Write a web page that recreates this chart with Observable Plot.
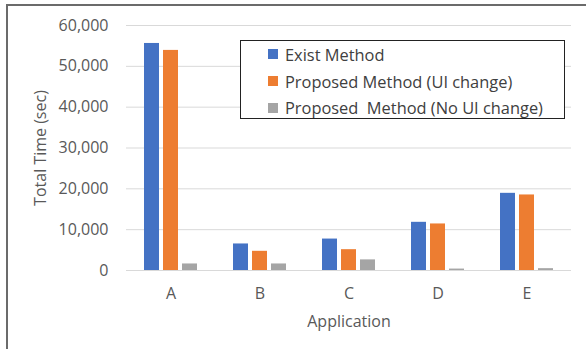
<!DOCTYPE html>
<html>
<head>
<meta charset="utf-8">
<script src="https://cdn.jsdelivr.net/npm/d3@7"></script>
<script src="https://cdn.jsdelivr.net/npm/@observablehq/plot@0.6"></script>
<style>
  html, body { margin: 0; padding: 0; background: #fff; }
  #wrap { position: relative; width: 586px; height: 349px; overflow: hidden; font-family: "Open Sans", sans-serif; }
  #border { position: absolute; left: 6px; top: 4px; right: -4px; bottom: -4px; border-top: 2px solid #6b6b6b; border-left: 2px solid #6b6b6b; pointer-events: none; }
  #legend { position: absolute; left: 240px; top: 40px; width: 325px; height: 79px; box-sizing: border-box; border: 1.5px solid #222; background: #fff; padding: 0 0 0 27px; }
  .item { display: flex; align-items: center; height: 26.8px; font-size: 16.4px; color: #404040; white-space: pre; }
  .sw { width: 10px; height: 10px; margin-right: 7px; flex: none; }
</style>
</head>
<body>
<div id="wrap">
  <div id="chart"></div>
  <div id="legend"></div>
  <div id="border"></div>
</div>
<script>
// Applications and the three methods compared
const apps = ["A", "B", "C", "D", "E"];
const methods = ["Exist Method", "Proposed Method (UI change)", "Proposed  Method (No UI change)"];
const colors = ["#4472C4", "#ED7D31", "#A5A5A5"];

// Total time in seconds per application
const existMethod = [55600, 6500, 7700, 11800, 18900];
const proposedUiChange = [53900, 4700, 5100, 11400, 18500];
const proposedNoUiChange = [1600, 1600, 2600, 350, 450];

const yTicks = [0, 10000, 20000, 30000, 40000, 50000, 60000];

const seriesValues = [existMethod, proposedUiChange, proposedNoUiChange];
const data = [];
apps.forEach((app, i) => {
  methods.forEach((m, j) => data.push({app, method: m, value: seriesValues[j][i]}));
});

const chart = Plot.plot({
  width: 586,
  height: 349,
  marginLeft: 125,
  marginRight: 14,
  marginTop: 25,
  marginBottom: 79,
  style: {fontFamily: "'Open Sans', sans-serif", fontSize: "16px", color: "#595959", background: "transparent"},
  fx: {domain: apps, padding: 0, label: "Application", labelArrow: "none", labelAnchor: "center", tickSize: 0, tickPadding: 17, labelOffset: 56},
  x: {domain: methods, paddingInner: 0.21, paddingOuter: 0.885, axis: null},
  y: {domain: [0, 60000], ticks: yTicks, tickFormat: d3.format(","), tickSize: 0, tickPadding: 18, label: "Total Time (sec)", labelArrow: "none", labelAnchor: "center", labelOffset: 92},
  color: {domain: methods, range: colors},
  marks: [
    Plot.ruleY(yTicks, {stroke: "#d9d9d9", strokeWidth: 1}),
    Plot.barY(data, {fx: "app", x: "method", y: "value", fill: "method"})
  ]
});
document.getElementById("chart").appendChild(chart);

const legend = document.getElementById("legend");
methods.forEach((m, j) => {
  const row = document.createElement("div");
  row.className = "item";
  const sw = document.createElement("span");
  sw.className = "sw";
  sw.style.background = colors[j];
  const label = document.createElement("span");
  label.textContent = m;
  row.appendChild(sw);
  row.appendChild(label);
  legend.appendChild(row);
});
</script>
</body>
</html>
